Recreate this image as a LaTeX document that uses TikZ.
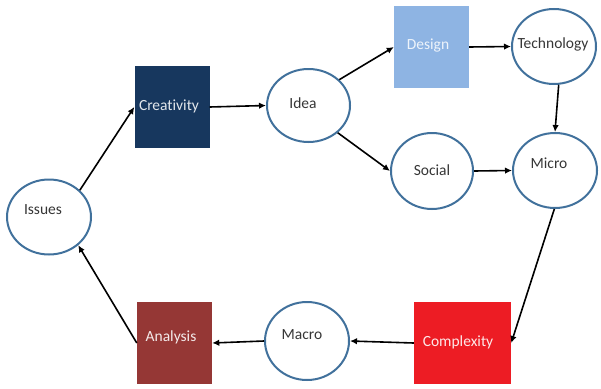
\documentclass[tikz,border=0pt]{standalone}
\usepackage{fontspec}
\setmainfont[Ligatures={NoCommon}]{Carlito}
\usetikzlibrary{arrows.meta,shapes.geometric}
\definecolor{navy}{HTML}{17375E}
\definecolor{lightblue}{HTML}{8EB4E3}
\definecolor{brick}{HTML}{953735}
\definecolor{redbox}{HTML}{ED1C24}
\definecolor{ringblue}{HTML}{41719C}
\definecolor{txtgray}{HTML}{363636}
\tikzset{
  ring/.style={ellipse, draw=ringblue, line width=2pt, fill=white, minimum width=84pt, minimum height=75pt, inner sep=0pt},
  boxnode/.style={rectangle, inner sep=0pt, minimum height=82pt},
  ringtext/.style={text=txtgray, font=\fontsize{15.5}{18}\selectfont, inner sep=0pt},
  boxtext/.style={font=\fontsize{15.5}{18}\selectfont, inner sep=0pt},
  conn/.style={line width=1.6pt, -{Latex[length=7pt,width=6.5pt]}}
}
\begin{document}
\begin{tikzpicture}[x=1pt,y=-1pt]
\useasboundingbox (0,0) rectangle (601,388);
% boxes
\node[boxnode, fill=navy, minimum width=75pt] (creativity) at (172,107) {};
\node[boxtext, text=white!88!navy] (creativity-t) at (169,106) {Creativity};
\node[boxnode, fill=lightblue, minimum width=75pt] (design) at (431.5,47) {};
\node[boxtext, text=white!85!lightblue] (design-t) at (428,45) {Design};
\node[boxnode, fill=brick, minimum width=75pt] (analysis) at (174.5,343) {};
\node[boxtext, text=white!90!brick] (analysis-t) at (171,337) {Analysis};
\node[boxnode, fill=redbox, minimum width=97pt] (complexity) at (462.5,343) {};
\node[boxtext, text=white!90!redbox] (complexity-t) at (458,342) {Complexity};
% ellipses
\node[ring] (issues) at (49,217) {};
\node[ringtext] (issues-t) at (43,210) {Issues};
\node[ring, minimum width=83pt, minimum height=73pt] (idea) at (308.5,105.5) {};
\node[ringtext] (idea-t) at (303,103) {Idea};
\node[ring] (tech) at (554,46.5) {};
\node[ringtext] (tech-t) at (553,44) {Technology};
\node[ring, minimum width=82pt, minimum height=76pt] (social) at (432,171) {};
\node[ringtext] (social-t) at (432,170) {Social};
\node[ring] (micro) at (555,170.5) {};
\node[ringtext] (micro-t) at (549,163) {Micro};
\node[ring, minimum height=78pt] (macro) at (307,341) {};
\node[ringtext] (macro-t) at (302,335) {Macro};
% connectors
\draw[conn] (issues.41) -- (creativity.west);
\draw[conn] (creativity.east) -- (idea.west);
\draw[conn] (idea.40) -- (design.west);
\draw[conn] (idea.-43) -- (social.west);
\draw[conn] (design.east) -- (tech.west);
\draw[conn] (social.east) -- (micro.west);
\draw[conn] (tech.-83) -- (micro.north);
\draw[conn] (micro.-91) -- (complexity.east);
\draw[conn] (complexity.west) -- (macro.east);
\draw[conn] (macro.west) -- (analysis.east);
\draw[conn] (analysis.west) -- (issues.-44);
\end{tikzpicture}
\end{document}
